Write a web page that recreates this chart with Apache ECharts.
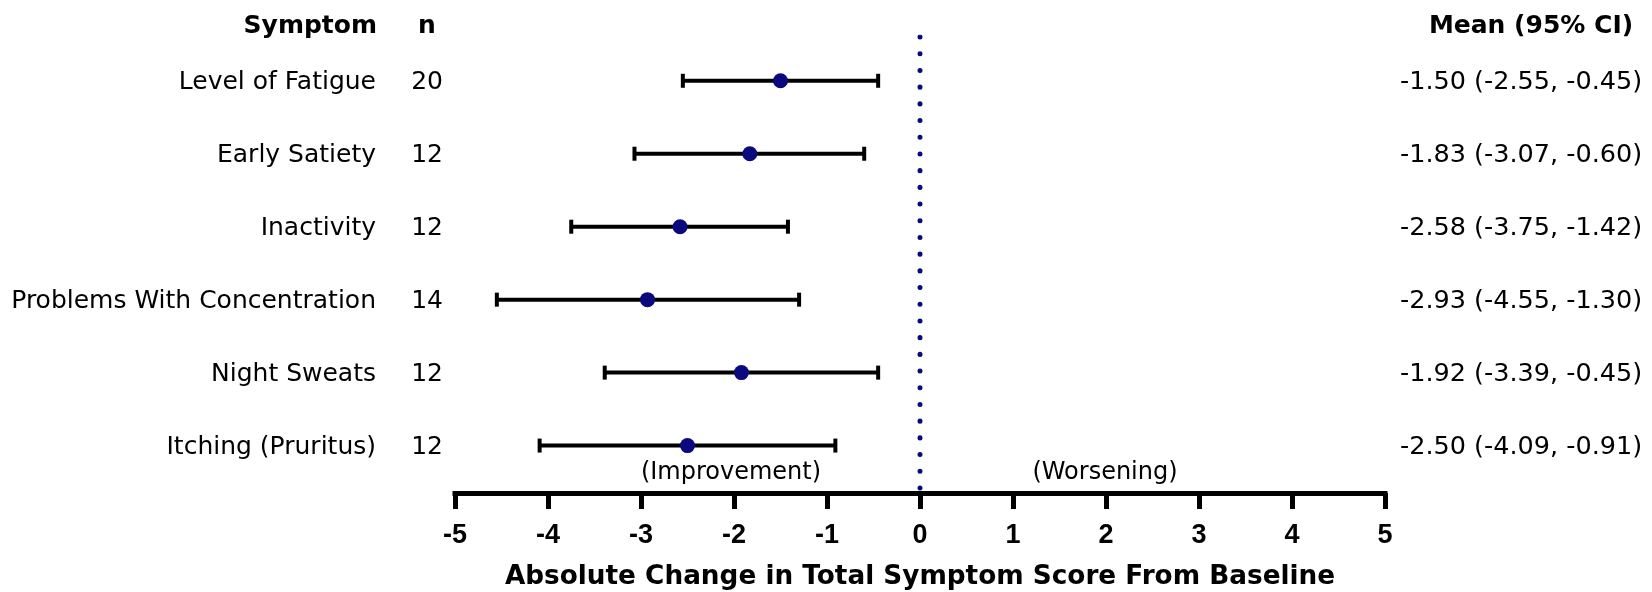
<!DOCTYPE html>
<html>
<head>
<meta charset="utf-8">
<script src="https://cdn.jsdelivr.net/npm/echarts@6/dist/echarts.min.js"></script>
<style>
html,body{margin:0;padding:0;background:#fff;}
#chart{width:1652px;height:592px;}
</style>
</head>
<body>
<div id="chart"></div>
<script>
// ---- data ----
const symptoms = ['Level of Fatigue', 'Early Satiety', 'Inactivity', 'Problems With Concentration', 'Night Sweats', 'Itching (Pruritus)'];
const nValues = [20, 12, 12, 14, 12, 12];
const means = [-1.50, -1.83, -2.58, -2.93, -1.92, -2.50];
const lowerCI = [-2.55, -3.07, -3.75, -4.55, -3.39, -4.09];
const upperCI = [-0.45, -0.60, -1.42, -1.30, -0.45, -0.91];
const xMin = -5, xMax = 5, xStep = 1;
const headers = { symptom: 'Symptom', n: 'n', mean: 'Mean (95% CI)' };
const directionLabels = { left: '(Improvement)', right: '(Worsening)' };
const axisTitle = 'Absolute Change in Total Symptom Score From Baseline';

// ---- build ----
const NAVY = '#0a0a7e';
const REG = '"DejaVu Sans", sans-serif';
const rowIdx = symptoms.map((_, i) => i);
const meanText = means.map((m, i) => `${m.toFixed(2)} (${lowerCI[i].toFixed(2)}, ${upperCI[i].toFixed(2)})`);

const chart = echarts.init(document.getElementById('chart'), null, { renderer: 'canvas' });

function textColumn(texts, x, align, font) {
  return {
    type: 'custom',
    silent: true,
    data: rowIdx.map(i => [0, i]),
    renderItem: function (params, api) {
      const p = api.coord([0, api.value(1)]);
      return {
        type: 'text',
        style: {
          x: x, y: p[1] + 2,
          text: texts[params.dataIndex],
          align: align, verticalAlign: 'middle',
          font: font, fill: '#000'
        }
      };
    }
  };
}

const option = {
  backgroundColor: '#fff',
  animation: false,
  grid: { left: 455, right: 267, top: 37, bottom: 99, containLabel: false, outerBoundsMode: 'none' },
  xAxis: {
    type: 'value', min: xMin, max: xMax, interval: xStep,
    splitLine: { show: false },
    axisLine: { onZero: false, lineStyle: { color: '#000', width: 5, cap: 'square' } },
    axisTick: { show: true, length: 16, lineStyle: { color: '#000', width: 5 } },
    axisLabel: { color: '#000', fontFamily: '"Liberation Sans", Arial, sans-serif', fontWeight: 'bold', fontSize: 27, margin: 29 },
    name: axisTitle, nameLocation: 'middle', nameGap: 71,
    nameTextStyle: { color: '#000', fontFamily: REG, fontWeight: 'bold', fontSize: 26.3 }
  },
  yAxis: { type: 'value', inverse: true, min: -0.6, max: 5.65, show: false },
  graphic: [
    { type: 'text', x: 377, y: 26, style: { text: headers.symptom, align: 'right', verticalAlign: 'middle', font: 'bold 25px ' + REG, fill: '#000' } },
    { type: 'text', x: 427, y: 26, style: { text: headers.n, align: 'center', verticalAlign: 'middle', font: 'bold 25px ' + REG, fill: '#000' } },
    { type: 'text', x: 1531, y: 26, style: { text: headers.mean, align: 'center', verticalAlign: 'middle', font: 'bold 25px ' + REG, fill: '#000' } },
    { type: 'text', x: 731, y: 473, style: { text: directionLabels.left, align: 'center', verticalAlign: 'middle', font: '24px ' + REG, fill: '#000' } },
    { type: 'text', x: 1105, y: 473, style: { text: directionLabels.right, align: 'center', verticalAlign: 'middle', font: '24px ' + REG, fill: '#000' } }
  ],
  series: [
    {
      type: 'line', silent: true, symbol: 'none', z: 1,
      data: [[0, -0.6], [0, 5.65]],
      lineStyle: { color: NAVY, width: 5, type: [0.1, 16.6], cap: 'round' }
    },
    {
      type: 'custom', silent: true, z: 3,
      data: rowIdx.map(i => [lowerCI[i], upperCI[i], i]),
      renderItem: function (params, api) {
        const a = api.coord([api.value(0), api.value(2)]);
        const b = api.coord([api.value(1), api.value(2)]);
        const st = { stroke: '#000', lineWidth: 4, fill: null };
        const h = 7;
        return {
          type: 'group',
          children: [
            { type: 'line', shape: { x1: a[0], y1: a[1], x2: b[0], y2: b[1] }, style: st },
            { type: 'line', shape: { x1: a[0], y1: a[1] - h, x2: a[0], y2: a[1] + h }, style: st },
            { type: 'line', shape: { x1: b[0], y1: b[1] - h, x2: b[0], y2: b[1] + h }, style: st }
          ]
        };
      }
    },
    {
      type: 'scatter', silent: true, z: 4,
      data: rowIdx.map(i => [means[i], i]),
      symbol: 'circle', symbolSize: 15,
      itemStyle: { color: NAVY, opacity: 1 }
    },
    textColumn(symptoms, 376, 'right', '25px ' + REG),
    textColumn(nValues.map(String), 443, 'right', '25px ' + REG),
    textColumn(meanText, 1400, 'left', '25.5px ' + REG)
  ]
};
chart.setOption(option);
</script>
</body>
</html>
